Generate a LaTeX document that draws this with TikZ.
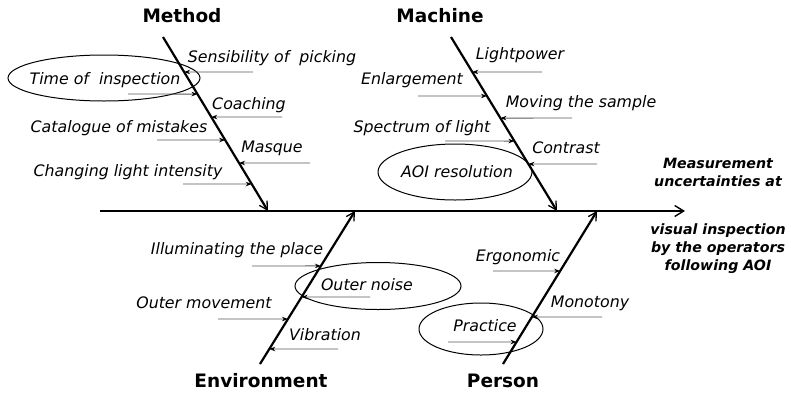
\documentclass[tikz,border=0pt]{standalone}
\usepackage{fontspec}
\setmainfont{DejaVu Sans}
\usetikzlibrary{arrows.meta,shapes.geometric}

\begin{document}
\begin{tikzpicture}
    [x=1pt, y=-1pt,
    bone/.style={line width=2.2pt, -{Straight Barb[length=8pt,width=9pt,line width=1.3pt]}},
    spine/.style={line width=2.4pt, -{Straight Barb[length=9pt,width=11pt,line width=1.4pt]}},
    cause/.style={line width=0.9pt, draw=black!65, -{Stealth[length=6pt,width=4.5pt,black]}},
    causetext/.style={inner sep=0pt, font=\fontsize{15.8}{17}\selectfont\itshape},
    head/.style={inner sep=0pt, font=\fontsize{18.5}{21}\selectfont\bfseries},
    effect/.style={inner sep=0pt, align=center, font=\fontsize{14.2}{18}\selectfont\bfseries\itshape},
    oval/.style={draw, ellipse, line width=1pt, inner sep=0pt}]
    \useasboundingbox (0,0) rectangle (791,394);

    \coordinate (S0) at (100,211);
    \coordinate (S1) at (685,211);
    \coordinate (M0) at (163,37);
    \coordinate (M1) at (268,211);
    \coordinate (K0) at (451,37);
    \coordinate (K1) at (557,211);
    \coordinate (E0) at (260,364);
    \coordinate (E1) at (355,211);
    \coordinate (P0) at (503,364);
    \coordinate (P1) at (597,211);

    \draw[spine] (S0) -- (S1);
    \draw[bone] (M0) -- (M1) coordinate[pos=.201] (ma) coordinate[pos=.328] (mb) coordinate[pos=.460] (mc)
        coordinate[pos=.592] (md) coordinate[pos=.724] (me) coordinate[pos=.845] (mf);
    \draw[bone] (K0) -- (K1) coordinate[pos=.201] (ka) coordinate[pos=.339] (kb) coordinate[pos=.466] (kc)
        coordinate[pos=.598] (kd) coordinate[pos=.730] (ke);
    \draw[bone] (E0) -- (E1) coordinate[pos=.641] (ea) coordinate[pos=.438] (eb) coordinate[pos=.294] (ec)
        coordinate[pos=.098] (ed);
    \draw[bone] (P0) -- (P1) coordinate[pos=.608] (pa) coordinate[pos=.307] (pb) coordinate[pos=.144] (pc);

    \node[head] (method) at (182,16) {Method};
    \node[head] (machine) at (440,16) {Machine};
    \node[head] (environment) at (261,381) {Environment};
    \node[head] (person) at (503,381) {Person};

    \node[effect] (effA) at (718,172) {Measurement\\uncertainties at};
    \node[effect] (effB) at (718,249) {visual inspection\\by the operators\\following AOI};

    \node[oval, minimum width=192pt, minimum height=46pt] (ovTime) at (104,78) {};
    \node[oval, minimum width=154pt, minimum height=56pt] (ovAOI) at (455,172) {};
    \node[oval, minimum width=166pt, minimum height=47pt] (ovNoise) at (378,286) {};
    \node[oval, minimum width=124pt, minimum height=52pt] (ovPractice) at (481,329) {};

    \coordinate (mas) at (253,72);
    \coordinate (mbs) at (128,94);
    \coordinate (mcs) at (282,117);
    \coordinate (mds) at (157,140);
    \coordinate (mes) at (310,163);
    \coordinate (mfs) at (183,184);
    \coordinate (kas) at (542,72);
    \coordinate (kbs) at (418,96);
    \coordinate (kcs) at (572,118);
    \coordinate (kds) at (445,141);
    \coordinate (kes) at (597,164);
    \coordinate (eas) at (252,266);
    \coordinate (ebs) at (370,297);
    \coordinate (ecs) at (218,319);
    \coordinate (eds) at (338,349);
    \coordinate (pas) at (493,271);
    \coordinate (pbs) at (602,317);
    \coordinate (pcs) at (448,342);

    \draw[cause] (mas) -- (ma);
    \draw[cause] (mbs) -- (mb);
    \draw[cause] (mcs) -- (mc);
    \draw[cause] (mds) -- (md);
    \draw[cause] (mes) -- (me);
    \draw[cause] (mfs) -- (mf);
    \draw[cause] (kas) -- (ka);
    \draw[cause] (kbs) -- (kb);
    \draw[cause] (kcs) -- (kc);
    \draw[cause] (kds) -- (kd);
    \draw[cause] (kes) -- (ke);
    \draw[cause] (eas) -- (ea);
    \draw[cause] (ebs) -- (eb);
    \draw[cause] (ecs) -- (ec);
    \draw[cause] (eds) -- (ed);
    \draw[cause] (pas) -- (pa);
    \draw[cause] (pbs) -- (pb);
    \draw[cause] (pcs) -- (pc);

    \node[causetext] (tSens) at (272,58) {Sensibility of\ \ picking};
    \node[causetext] (tTime) at (105,80) {Time of\ \ inspection};
    \node[causetext] (tCoach) at (249,105) {Coaching};
    \node[causetext] (tCat) at (119,128) {Catalogue of mistakes};
    \node[causetext] (tMasque) at (272,148) {Masque};
    \node[causetext] (tChange) at (128,172) {Changing light intensity};
    \node[causetext] (tLight) at (520,55) {Lightpower};
    \node[causetext] (tEnl) at (412,80) {Enlargement};
    \node[causetext] (tMove) at (581,103) {Moving the sample};
    \node[causetext] (tSpec) at (422,128) {Spectrum of light};
    \node[causetext] (tContr) at (566,148) {Contrast};
    \node[causetext] (tAOI) at (457,172) {AOI resolution};
    \node[causetext] (tIllum) at (237,250) {Illuminating the place};
    \node[causetext] (tNoise) at (367,285) {Outer noise};
    \node[causetext] (tMove2) at (204,303) {Outer movement};
    \node[causetext] (tVib) at (325,335) {Vibration};
    \node[causetext] (tErgo) at (518,257) {Ergonomic};
    \node[causetext] (tMono) at (590,303) {Monotony};
    \node[causetext] (tPract) at (485,326) {Practice};
\end{tikzpicture}
\end{document}
